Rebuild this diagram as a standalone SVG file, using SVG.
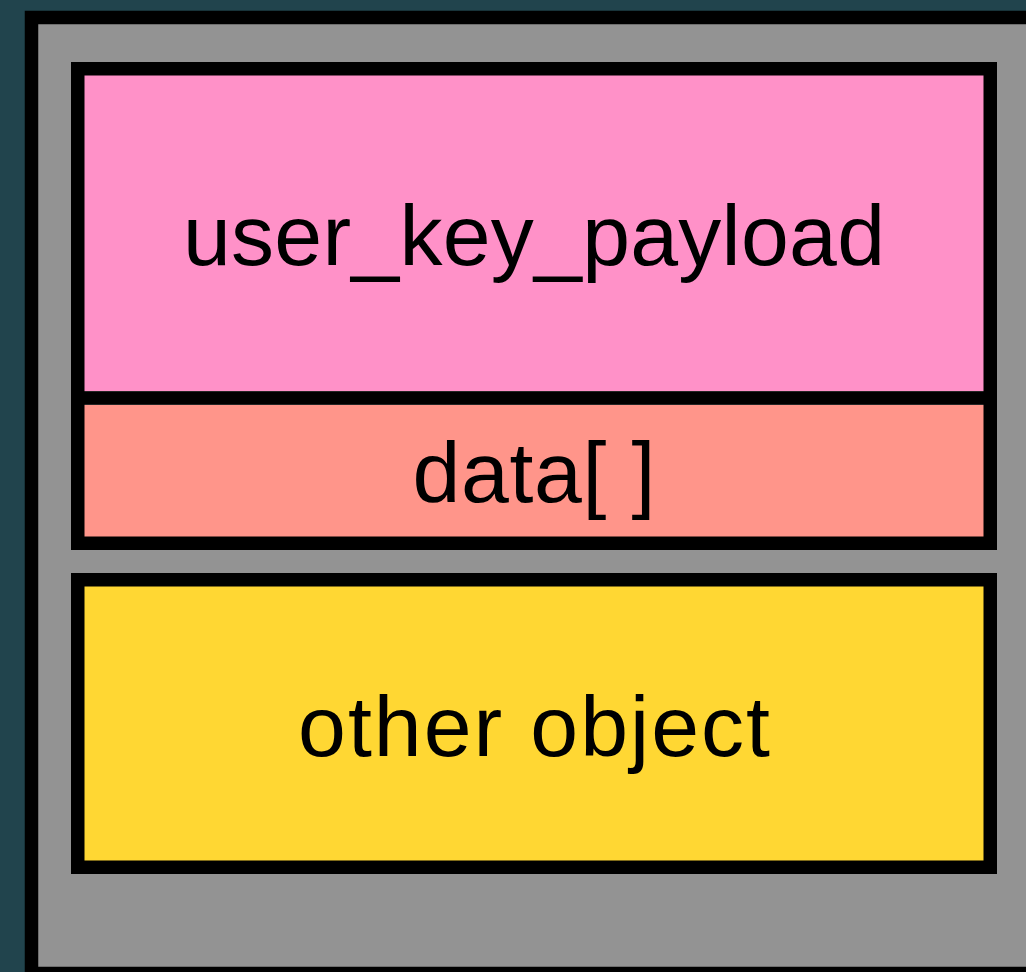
<svg xmlns="http://www.w3.org/2000/svg" width="1026" height="972" viewBox="0 0 1026 972">
  <style>
    .frame { stroke: #000; stroke-width: 13.5; }
    .label { font-family: "Liberation Sans", Arial, sans-serif; font-size: 86px; fill: #000; text-anchor: middle; }
  </style>
  <!-- backdrop -->
  <rect x="0" y="0" width="1026" height="972" fill="#21444d"/>
  <!-- container -->
  <g id="container">
    <rect class="frame" x="31.5" y="17.5" width="1100" height="956" fill="#939393"/>
  </g>
  <!-- key payload with trailing data -->
  <g id="user_key_payload">
    <rect x="84" y="75" width="900" height="316" fill="#ff91c8"/>
    <rect x="84" y="405" width="900" height="132" fill="#ff958a"/>
    <rect class="frame" x="77.75" y="68.75" width="912.5" height="474.5" fill="none"/>
    <line class="frame" x1="71" y1="398" x2="997" y2="398"/>
    <text class="label" x="534" y="265" textLength="702" lengthAdjust="spacing">user_key_payload</text>
  </g>
  <g id="data">
    <text class="label" x="534" y="502" textLength="243" lengthAdjust="spacing">data[ ]</text>
  </g>
  <!-- neighbouring object -->
  <g id="other_object">
    <rect class="frame" x="77.75" y="579.75" width="912.5" height="287.5" fill="#ffd733"/>
    <text class="label" x="534" y="756" textLength="472" lengthAdjust="spacing">other object</text>
  </g>
  <g id="connectors"/>
</svg>
